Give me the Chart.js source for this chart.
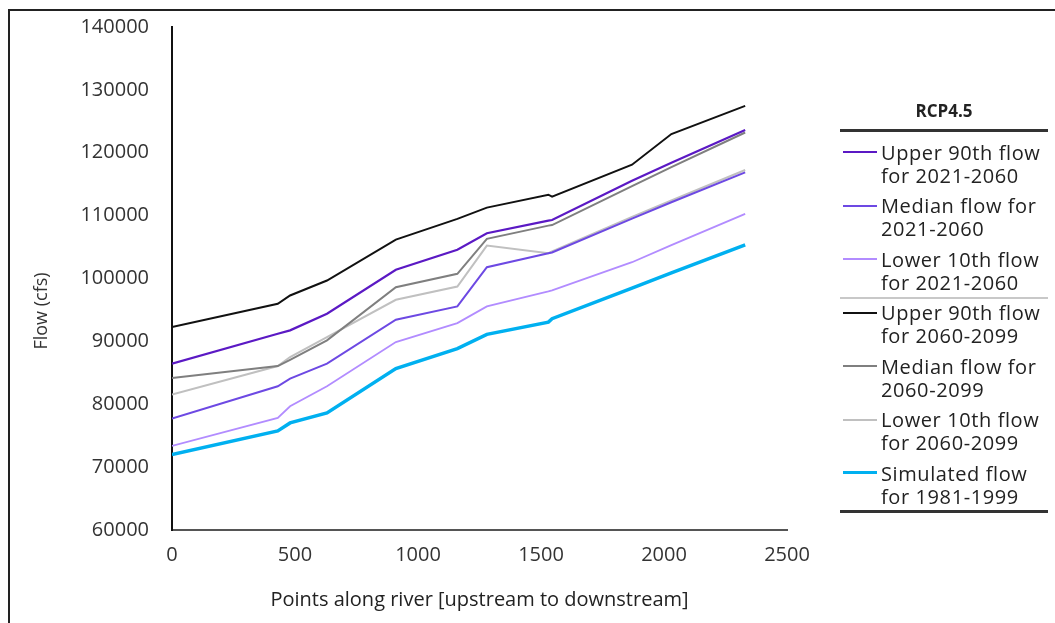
<!DOCTYPE html>
<html>
<head>
<meta charset="utf-8">
<script src="https://cdn.jsdelivr.net/npm/chart.js@4"></script>
<style>
  body { margin: 0; background: #fff; }
  #wrap { position: relative; width: 1055px; height: 623px; overflow: hidden; font-family: "Open Sans", sans-serif; color: #222; }
  #flowChart { position: absolute; left: 0; top: -8px; }
  .frame { position: absolute; left: 8px; top: 9px; width: 1100px; height: 700px; border-left: 2px solid #222; border-top: 2px solid #222; pointer-events: none; }
  #yTitle { position: absolute; left: 40px; top: 311px; transform: translate(-50%, -50%) rotate(-90deg); font-size: 18px; white-space: nowrap; color: #333; }
  #legend { position: absolute; left: 840px; top: 0; width: 208px; height: 623px; }
  #legend .head { position: absolute; top: 99px; width: 100%; text-align: center; font-weight: bold; font-size: 17px; line-height: 24px; }
  #legend .rule { position: absolute; left: 0; width: 100%; height: 0; }
  #legend .item { position: absolute; left: 0; width: 100%; height: 46px; }
  #legend .swatch { position: absolute; left: 3px; width: 34px; height: 0; }
  #legend .text { position: absolute; left: 41px; top: 0; font-size: 20px; line-height: 23px; letter-spacing: 0.6px; white-space: nowrap; }
</style>
</head>
<body>
<div id="wrap">
  <canvas id="flowChart" width="1055" height="631"></canvas>
  <div class="frame"></div>
  <div id="yTitle">Flow (cfs)</div>
  <div id="legend"></div>
</div>
<script>
// points along the river (x) shared by every series
const points = [0, 430, 480, 630, 910, 1160, 1280, 1530, 1545, 1870, 2030, 2330];

const upper2021 = [86460, 91220, 91750, 94400, 101380, 104560, 107190, 109210, 109300, 115560, 118400, 123600];
const median2021 = [77730, 82860, 84080, 86460, 93440, 95560, 101790, 104020, 104130, 109520, 112130, 116870];
const lower2021 = [73380, 77830, 79680, 82860, 89890, 92900, 95560, 97940, 98100, 102590, 105300, 110270];
const upper2060 = [92270, 95980, 97300, 99680, 106190, 109480, 111270, 113330, 113020, 118100, 122970, 127460];
const median2060 = [84180, 86080, 87060, 90160, 98620, 100750, 106300, 108410, 108500, 114700, 117700, 123220];
const lower2060 = [81540, 86080, 87510, 90680, 96620, 98730, 105240, 104020, 104300, 109800, 112400, 117250];
const simulated = [72020, 75760, 77030, 78620, 85670, 88840, 91110, 93060, 93600, 98460, 100890, 105350];

const seriesLabels = [
    ["Upper 90th flow", "for 2021-2060"],
    ["Median flow for", "2021-2060"],
    ["Lower 10th flow", "for 2021-2060"],
    ["Upper 90th flow", "for 2060-2099"],
    ["Median flow for", "2060-2099"],
    ["Lower 10th flow", "for 2060-2099"],
    ["Simulated flow", "for 1981-1999"]
];
const seriesValues = [upper2021, median2021, lower2021, upper2060, median2060, lower2060, simulated];
const seriesColors = ["#5b19c4", "#6d49e3", "#b28cff", "#111111", "#7f7f7f", "#c0c0c0", "#00b0f0"];
const seriesWidths = [2.2, 2, 1.8, 2, 2, 2, 3.5];

const xTicks = [0, 500, 1000, 1500, 2000, 2500];
const yTicks = [60000, 70000, 80000, 90000, 100000, 110000, 120000, 130000, 140000];

document.addEventListener("DOMContentLoaded", function() {
    Chart.defaults.font.family = "'Open Sans', sans-serif";
    const ctx = document.getElementById("flowChart").getContext("2d");

    const datasets = seriesValues.map(function(vals, i) {
        return {
            label: seriesLabels[i].join(" "),
            data: points.map(function(x, j) { return { x: x, y: vals[j] }; }),
            borderColor: seriesColors[i],
            backgroundColor: seriesColors[i],
            borderWidth: seriesWidths[i],
            pointRadius: 0,
            tension: 0,
            fill: false
        };
    });

    new Chart(ctx, {
        type: "line",
        data: { datasets: datasets },
        options: {
            responsive: false,
            animation: false,
            layout: { padding: { left: 0, top: 0, right: 268, bottom: 0 } },
            plugins: {
                legend: { display: false },
                tooltip: { enabled: false }
            },
            scales: {
                x: {
                    type: "linear",
                    min: xTicks[0],
                    max: xTicks[xTicks.length - 1],
                    afterBuildTicks: function(axis) { axis.ticks = xTicks.map(function(v) { return { value: v }; }); },
                    afterFit: function(axis) { axis.height = 93; },
                    grid: { display: false, drawTicks: false },
                    border: { display: true, color: "#555", width: 2 },
                    ticks: {
                        padding: 13,
                        color: "#333",
                        font: { size: 20 },
                        callback: function(v) { return String(v); }
                    },
                    title: {
                        display: true,
                        text: "Points along river [upstream to downstream]",
                        color: "#222",
                        font: { size: 20 },
                        padding: { top: 0, bottom: 11 }
                    }
                },
                y: {
                    min: yTicks[0],
                    max: yTicks[yTicks.length - 1],
                    afterBuildTicks: function(axis) { axis.ticks = yTicks.map(function(v) { return { value: v }; }); },
                    afterFit: function(axis) { axis.width = 172; },
                    grid: { display: false, drawTicks: false },
                    border: { display: true, color: "#111", width: 2 },
                    ticks: {
                        padding: 23,
                        color: "#333",
                        font: { size: 20 },
                        callback: function(v) { return String(v); }
                    }
                }
            }
        }
    });

    // legend built from the same label / colour arrays
    const legend = document.getElementById("legend");
    let html = '<div class="head">RCP4.5</div>';
    html += '<div class="rule" style="top:129px;border-top:3px solid #333"></div>';
    seriesLabels.forEach(function(lines, i) {
        const top = 140.5 + i * 53.5;
        html += '<div class="item" style="top:' + top + 'px">' +
            '<div class="swatch" style="top:' + (11.5 - seriesWidths[i] / 2) + 'px;border-top:' + Math.max(2, seriesWidths[i]) + 'px solid ' + seriesColors[i] + '"></div>' +
            '<div class="text">' + lines.join("<br>") + '</div></div>';
    });
    html += '<div class="rule" style="top:297px;border-top:2px solid #c8c8c8"></div>';
    html += '<div class="rule" style="top:510px;border-top:3px solid #333"></div>';
    legend.innerHTML = html;
});
</script>
</body>
</html>
